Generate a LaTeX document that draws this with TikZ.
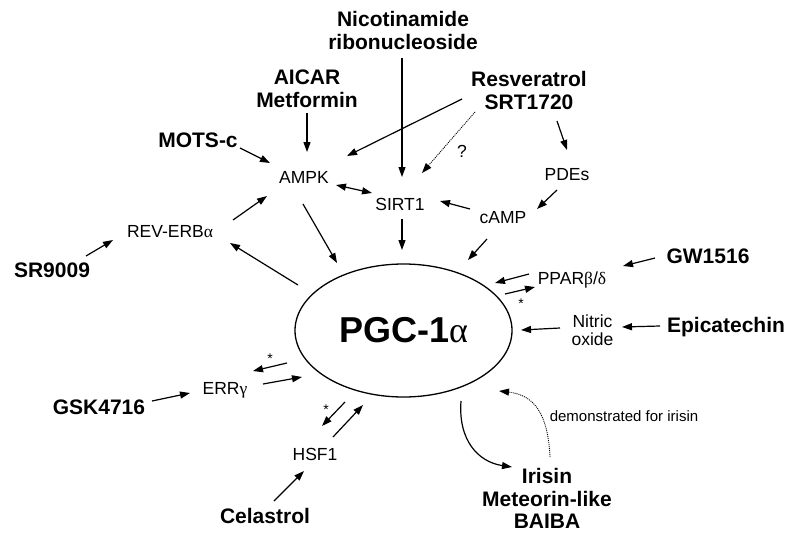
\documentclass[tikz,border=0pt]{standalone}
\usepackage{fontspec}
\setmainfont{Liberation Sans}
\newfontfamily\grk{Liberation Serif}
\usetikzlibrary{arrows.meta,shapes.geometric}
\tikzset{
  lbl/.style={inner sep=0pt, anchor=base, font=\fontsize{21}{22}\selectfont\bfseries},
  reg/.style={inner sep=0pt, anchor=base, font=\fontsize{17.5}{18}\selectfont},
  small/.style={inner sep=0pt, anchor=base, font=\fontsize{15}{16}\selectfont},
  starmark/.style={inner sep=0pt, anchor=base, font=\fontsize{14}{15}\selectfont},
  arr/.style={line width=1.2pt, -{Triangle[length=10pt,width=7pt]}},
  dbl/.style={line width=1.2pt, {Triangle[length=10pt,width=7pt]}-{Triangle[length=10pt,width=7pt]}},
  dotarr/.style={line width=0.9pt, dash pattern=on 1pt off 1pt, -{Triangle[length=10pt,width=7pt]}},
}
\begin{document}
\begin{tikzpicture}[x=1pt,y=-1pt]
\path[use as bounding box, fill=white] (0,0) rectangle (800,541);

% central node
\node[draw, ellipse, line width=1.3pt, minimum width=217pt, minimum height=133pt, inner sep=0pt,
      font=\fontsize{36}{38}\selectfont\bfseries] (pgc) at (403.5,330.5) {PGC-1{\grk\mdseries α}};

% bold drug labels
\node[lbl] (nic1) at (403,26.7) {Nicotinamide};
\node[lbl] (nic2) at (403,49.3) {ribonucleoside};
\node[lbl] (aic1) at (307,84) {AICAR};
\node[lbl] (aic2) at (307,107) {Metformin};
\node[lbl] (res1) at (529,86) {Resveratrol};
\node[lbl] (res2) at (529,109) {SRT1720};
\node[lbl] (mots) at (198,147) {MOTS-c};
\node[lbl] (sr) at (52,277) {SR9009};
\node[lbl] (gw) at (708,263) {GW1516};
\node[lbl] (epi) at (726,332) {Epicatechin};
\node[lbl] (gsk) at (99,414) {GSK4716};
\node[lbl] (cel) at (265,523) {Celastrol};
\node[lbl] (iri1) at (547,483) {Irisin};
\node[lbl] (iri2) at (547,506) {Meteorin-like};
\node[lbl] (iri3) at (547,528) {BAIBA};

% regular labels
\node[reg] (ampk) at (304,183) {AMPK};
\node[reg] (sirt) at (400,210) {SIRT1};
\node[reg] (pdes) at (567,180) {PDEs};
\node[reg] (camp) at (503,223) {cAMP};
\node[reg] (rev) at (170,237) {REV-ERB{\grk α}};
\node[reg] (ppar) at (572,284) {PPAR{\grk β}/{\grk δ}};
\node[reg] (nit1) at (592.5,327) {Nitric};
\node[reg] (nit2) at (592.5,345) {oxide};
\node[reg] (err) at (225,394) {ERR{\grk γ}};
\node[reg] (hsf) at (315,460) {HSF1};
\node[reg] (q) at (462,157) {?};
\node[small] (demo) at (624,421) {demonstrated for irisin};
\node[starmark] (st1) at (521,308) {*};
\node[starmark] (st2) at (270,363) {*};
\node[starmark] (st3) at (326,414) {*};

% connectors
\draw[arr] ([shift={(-1,8.7)}]nic2.base) -- ([shift={(2,-33)}]sirt.base);
\draw[arr] ([shift={(0,6)}]aic2.base) -- ([shift={(3,-31)}]ampk.base);
\draw[arr] ([shift={(-67,-10)}]res2.base) -- ([shift={(43,-27)}]ampk.base);
\draw[dotarr] ([shift={(-54,3)}]res2.base) -- ([shift={(22,-37)}]sirt.base);
\draw[arr] ([shift={(28,12)}]res2.base) -- ([shift={(0,-30)}]pdes.base);
\draw[arr] ([shift={(-10,10)}]pdes.base) -- ([shift={(34,-14)}]camp.base);
\draw[arr] ([shift={(-33,-14)}]camp.base) -- ([shift={(40,-9)}]sirt.base);
\draw[arr] ([shift={(-16,16)}]camp.base) -- ([shift={(64.5,-70.5)}]pgc.center);
\draw[arr] ([shift={(2,9)}]sirt.base) -- ([shift={(-1.5,-80.5)}]pgc.center);
\draw[arr] ([shift={(-1,21)}]ampk.base) -- ([shift={(-66.5,-67.5)}]pgc.center);
\draw[dbl] ([shift={(32,2)}]ampk.base) -- ([shift={(-28,-17)}]sirt.base);
\draw[arr] ([shift={(42,1)}]mots.base) -- ([shift={(-34,-20)}]ampk.base);
\draw[arr] ([shift={(63,-17)}]rev.base) -- ([shift={(-37,13)}]ampk.base);
\draw[arr] ([shift={(-105.5,-45.5)}]pgc.center) -- ([shift={(60,6)}]rev.base);
\draw[arr] ([shift={(34,-21)}]sr.base) -- ([shift={(-57,3)}]rev.base);
\draw[arr] ([shift={(-53,-5)}]gw.base) -- ([shift={(51,-18)}]ppar.base);
\draw[arr] ([shift={(-43,-10)}]ppar.base) -- ([shift={(91.5,-47.5)}]pgc.center);
\draw[arr] ([shift={(101.5,-36.5)}]pgc.center) -- ([shift={(-37,3)}]ppar.base);
\draw[arr] ([shift={(-66,-6)}]epi.base) -- ([shift={(29.5,0)}]nit1.base);
\draw[arr] ([shift={(-32.5,1)}]nit1.base) -- ([shift={(117.5,-0.5)}]pgc.center);
\draw[arr] ([shift={(53,-13)}]gsk.base) -- ([shift={(-35,-1)}]err.base);
\draw[arr] ([shift={(-116.5,32.5)}]pgc.center) -- ([shift={(28,-23)}]err.base);
\draw[arr] ([shift={(38,-10)}]err.base) -- ([shift={(-101.5,46.5)}]pgc.center);
\draw[arr] ([shift={(-58.5,71.5)}]pgc.center) -- ([shift={(7,-34)}]hsf.base);
\draw[arr] ([shift={(18,-23)}]hsf.base) -- ([shift={(-40.5,74.5)}]pgc.center);
\draw[arr] ([shift={(9,-22)}]cel.base) -- ([shift={(-11,11)}]hsf.base);
\draw[arr] ([shift={(57.5,70.5)}]pgc.center) .. controls +(-3,39) and +(-34,-5) .. ([shift={(-35,-16)}]iri1.base);
\draw[dotarr] ([shift={(3,-26)}]iri1.base) .. controls +(-2,-42) and +(36,4) .. ([shift={(95.5,60.5)}]pgc.center);
\end{tikzpicture}
\end{document}
